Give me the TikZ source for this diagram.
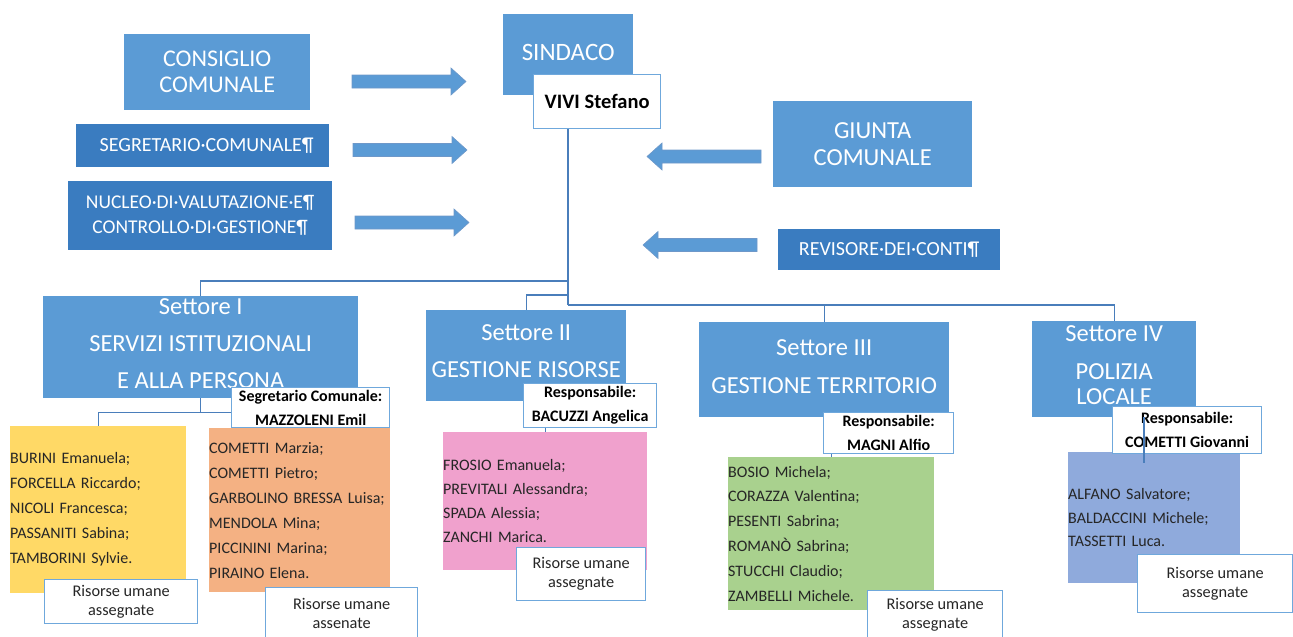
\documentclass[tikz,border=0pt]{standalone}
\usepackage{fontspec}
\setmainfont{Carlito}
\newcommand\setfs[2]{\fontsize{#1}{#2}\selectfont}
\definecolor{mblue}{HTML}{5B9BD5}
\definecolor{dblue}{HTML}{3A7CC0}
\definecolor{cyel}{HTML}{FFD966}
\definecolor{corange}{HTML}{F4B183}
\definecolor{cpink}{HTML}{F0A1CD}
\definecolor{cgreen}{HTML}{A9D18E}
\definecolor{clav}{HTML}{8FAADC}
\definecolor{cline}{HTML}{4A7EBB}
\definecolor{bord}{HTML}{6FA8DC}
\definecolor{ctext}{HTML}{262626}
\begin{document}
\begin{tikzpicture}[x=1pt,y=-1pt,
  blk/.style={fill=mblue, text=white, inner sep=0pt, align=center, anchor=north west},
  dblk/.style={fill=dblue, text=white, inner sep=0pt, align=center, anchor=north west},
  wbox/.style={fill=white, draw=bord, line width=1.3pt, inner sep=0pt, align=center, anchor=north west, text=black, font=\bfseries\setfs{16}{24}},
  rbox/.style={fill=white, draw=bord, line width=1.3pt, inner sep=0pt, align=center, anchor=north west, text=ctext, font=\setfs{16.3}{19}},
  listbox/.style={inner sep=0pt, align=left, anchor=north west, text=ctext, font=\setfs{16}{25}},
  conn/.style={draw=cline, line width=1.3pt},
  blockarrow/.pic={\filldraw[fill=mblue, draw=cline!80, line width=0.6pt]
     (0,-6.5) -- (99,-6.5) -- (99,-13.5) -- (114,0) -- (99,13.5) -- (99,6.5) -- (0,6.5) -- cycle;}
]
\useasboundingbox (0,0) rectangle (1293,637);

% top-left boxes
\node[blk, minimum width=186, minimum height=76, font=\setfs{24}{26}] (cons) at (124,34) {CONSIGLIO\\COMUNALE};
\node[dblk, minimum width=253, minimum height=43, font=\setfs{20}{22}] (segc) at (76,124) {\hspace{8pt}SEGRETARIO·COMUNALE¶};
\node[dblk, minimum width=264, minimum height=69, font=\setfs{19.5}{25}] (nuc) at (68,181) {NUCLEO·DI·VALUTAZIONE·E¶\\CONTROLLO·DI·GESTIONE¶};

% arrows
\pic (a1) at (352,81.5) {blockarrow};
\pic (a2) at (353,150) {blockarrow};
\pic (a3) at (355,222.5) {blockarrow};
\pic[xscale=-1] (a4) at (761,156.5) {blockarrow};
\pic[xscale=-1] (a5) at (757,245) {blockarrow};

% sindaco
\node[blk, minimum width=130, minimum height=81, font=\setfs{25}{26}] (sind) at (503,14) {\raisebox{5pt}{SINDACO}};
\node[wbox, font=\bfseries\setfs{20.5}{22}, minimum width=127, minimum height=54] (vivi) at (533,74) {VIVI Stefano};
\coordinate (t) at (568,305);
\coordinate (j1) at (568,281);
\coordinate (j2) at (568,295);

% right boxes
\node[blk, minimum width=199, minimum height=86, font=\setfs{24.5}{27}] (giun) at (773,101) {GIUNTA\\COMUNALE};
\node[dblk, minimum width=222, minimum height=41, font=\setfs{20}{22}] (rev) at (778,229) {REVISORE·DEI·CONTI¶};

% sectors
\node[blk, minimum width=315, minimum height=102, font=\setfs{24.5}{37}] (s1) at (43,296) {Settore I\\SERVIZI ISTITUZIONALI\\E ALLA PERSONA\\[-30pt]\mbox{}};
\node[blk, minimum width=200, minimum height=91, font=\setfs{24.5}{37}] (s2) at (426,310) {Settore II\\GESTIONE RISORSE\\[-28pt]\mbox{}};
\node[blk, minimum width=250, minimum height=95, font=\setfs{24.5}{38}] (s3) at (699,322) {Settore III\\GESTIONE TERRITORIO\\[-32pt]\mbox{}};
\node[blk, minimum width=164, minimum height=96, font=\setfs{24.5}{25}] (s4) at (1032,321) {Settore IV\\[13pt]POLIZIA\\LOCALE\\[-16pt]\mbox{}};

% lists
\node[listbox, fill=cyel, minimum width=176, text width=176, minimum height=167] (l1) at (10,426) {BURINI Emanuela;\\FORCELLA Riccardo;\\NICOLI Francesca;\\PASSANITI Sabina;\\TAMBORINI Sylvie.};
\node[listbox, fill=corange, minimum width=181, text width=181, minimum height=164] (l2) at (209,428) {COMETTI Marzia;\\COMETTI Pietro;\\GARBOLINO BRESSA Luisa;\\MENDOLA Mina;\\PICCININI Marina;\\PIRAINO Elena.};
\node[listbox, fill=cpink, minimum width=204, text width=204, minimum height=138, font=\setfs{16}{24}] (l3) at (443,432) {FROSIO Emanuela;\\PREVITALI Alessandra;\\SPADA Alessia;\\ZANCHI Marica.};
\node[listbox, fill=cgreen, minimum width=206, text width=206, minimum height=153, font=\setfs{16}{24.8}] (l4) at (728,457) {BOSIO Michela;\\CORAZZA Valentina;\\PESENTI Sabrina;\\ROMANÒ Sabrina;\\STUCCHI Claudio;\\ZAMBELLI Michele.};
\node[listbox, fill=clav, minimum width=172, text width=172, minimum height=131, font=\setfs{16}{23.5}] (l5) at (1068,452) {ALFANO Salvatore;\\BALDACCINI Michele;\\TASSETTI Luca.};

% connectors
\draw[conn] (vivi.south -| t) -- (t);
\draw[conn] (j1) -| (s1.north);
\draw[conn] (j2) -| (s2.north);
\draw[conn] (t) -| (s3.north);
\draw[conn] (t) -| (s4.north);
\draw[conn] (s1.south) -- ++(0,14) coordinate (j4);

% white boxes
\node[wbox, minimum width=158, minimum height=40] (segr) at (231,387) {Segretario Comunale:\\MAZZOLENI Emil};
\draw[conn] (segr.west |- j4) -| (l1.north);
\node[wbox, minimum width=133, minimum height=44] (resp2) at (523,383) {Responsabile:\\BACUZZI Angelica};
\node[wbox, minimum width=130, minimum height=41] (resp3) at (823,412) {Responsabile:\\MAGNI Alfio};
\node[wbox, minimum width=149, minimum height=47] (resp4) at (1112,406) {Responsabile:\\COMETTI Giovanni};
\draw[conn] (resp2.south -| l3.north) -- (l3.north);
\draw[conn] (resp3.south -| l4.north) -- (l4.north);

\node[rbox, minimum width=153, minimum height=44] (r1) at (44,579) {Risorse umane\\assegnate};
\node[rbox, minimum width=152, minimum height=52] (r2) at (265,587) {Risorse umane\\assenate};
\node[rbox, minimum width=129, minimum height=53] (r3) at (516,547) {Risorse umane\\assegnate};
\node[rbox, minimum width=135, minimum height=48] (r4) at (867,590) {Risorse umane\\assegnate};
\node[rbox, minimum width=155, minimum height=58] (r5) at (1137,554) {Risorse umane\\assegnate};

\coordinate (c4) at (1144,463);
\draw[conn] (s4.south -| c4) -- (c4);
\end{tikzpicture}
\end{document}
